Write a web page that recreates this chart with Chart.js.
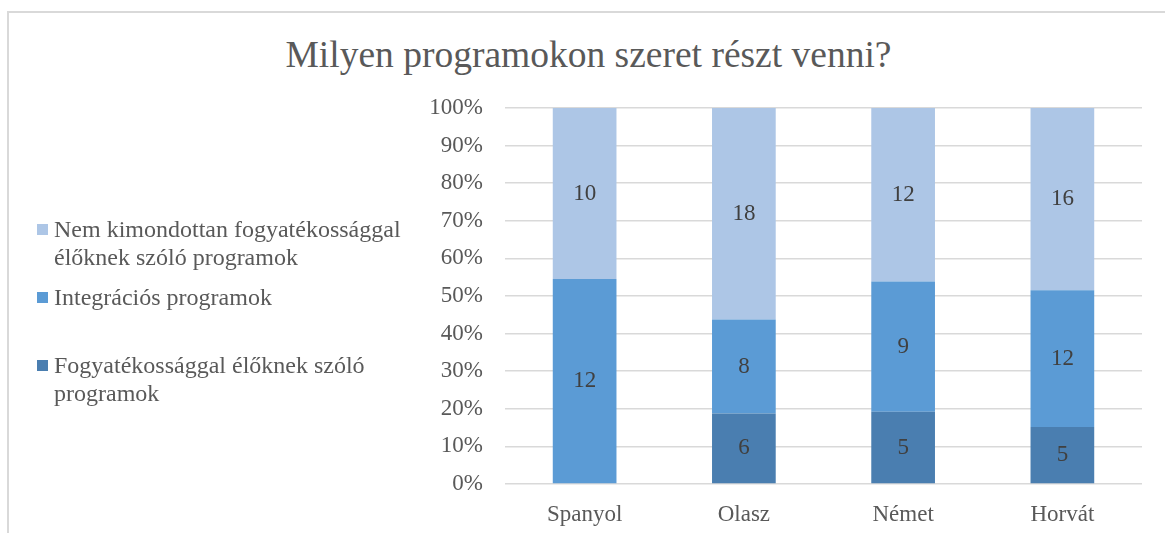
<!DOCTYPE html>
<html>
<head>
<meta charset="utf-8">
<script src="https://cdn.jsdelivr.net/npm/chart.js@4/dist/chart.umd.min.js"></script>
<style>
  body { margin: 0; background: #fff; font-family: "Liberation Serif", serif; }
  .frame { position: absolute; left: 7px; top: 11px; width: 1200px; height: 600px;
    border-top: 2px solid #d9d9d9; border-left: 2px solid #d9d9d9; }
  .title { position: absolute; left: 0; width: 1177px; top: 32px; text-align: center;
    font-size: 37.5px; color: #595959; line-height: 45px; }
  #wrap { position: absolute; left: 0; top: 0; width: 1165px; height: 533px; }
  .leg { position: absolute; left: 37px; color: #595959; font-size: 24px; line-height: 28px; }
  .leg i { position: absolute; left: 0; top: 9px; width: 11px; height: 11px; }
  .leg span { display: block; margin-left: 17px; width: 365px; }
</style>
</head>
<body>
<div class="frame"></div>
<div class="title">Milyen programokon szeret részt venni?</div>
<div id="wrap"><canvas id="chart"></canvas></div>
<div id="legend"></div>
<script>
let categories = ["Spanyol", "Olasz", "Német", "Horvát"];
let seriesNames = [
  "Fogyatékossággal élőknek szóló programok",
  "Integrációs programok",
  "Nem kimondottan fogyatékossággal élőknek szóló programok",
];
let fogyatekos = [0, 6, 5, 5];
let integracios = [12, 8, 9, 12];
let nemKimondottan = [10, 18, 12, 16];
let colors = ["#4a7eb0", "#5b9bd5", "#adc6e6"];

let counts = [fogyatekos, integracios, nemKimondottan];
let totals = categories.map((c, i) => counts.reduce((s, arr) => s + arr[i], 0));

// legend (top = last series), html so the long names can wrap
let legendTops = [351, 283, 215];
let legend = document.querySelector("#legend");
seriesNames.forEach((name, k) => {
  let d = document.createElement("div");
  d.className = "leg";
  d.style.top = legendTops[k] + "px";
  d.innerHTML = '<i style="background:' + colors[k] + '"></i><span>' + name + "</span>";
  legend.appendChild(d);
});

// count labels in the middle of each segment
const segmentLabels = {
  id: "segmentLabels",
  afterDatasetsDraw(chart) {
    let c = chart.ctx;
    c.save();
    c.font = '23px "Liberation Serif"';
    c.fillStyle = "#404040";
    c.textAlign = "center";
    c.textBaseline = "middle";
    chart.data.datasets.forEach((ds, k) => {
      chart.getDatasetMeta(k).data.forEach((bar, i) => {
        let v = counts[k][i];
        if (!v) return;
        c.fillText(String(v), bar.x, (bar.y + bar.base) / 2);
      });
    });
    c.restore();
  },
};

let ctx = document.querySelector("#chart");
new Chart(ctx, {
  type: "bar",
  data: {
    labels: categories,
    datasets: seriesNames.map((name, k) => ({
      label: name,
      data: counts[k].map((v, i) => (v / totals[i]) * 100),
      backgroundColor: colors[k],
      borderWidth: 0,
      categoryPercentage: 1,
      barPercentage: 0.4,
    })),
  },
  options: {
    responsive: true,
    maintainAspectRatio: false,
    animation: false,
    layout: { padding: { top: 108, right: 23, bottom: 0, left: 0 } },
    plugins: { legend: { display: false }, title: { display: false }, tooltip: { enabled: false } },
    scales: {
      x: {
        stacked: true,
        grid: { display: false, drawTicks: false },
        border: { display: false },
        ticks: { color: "#595959", font: { family: "Liberation Serif", size: 23 }, padding: 17 },
        afterFit: (s) => { s.height = 49; },
      },
      y: {
        stacked: true,
        min: 0,
        max: 100,
        grid: { color: "#d9d9d9", lineWidth: 1.5, drawTicks: false },
        border: { display: false },
        ticks: {
          stepSize: 10,
          color: "#595959",
          font: { family: "Liberation Serif", size: 23 },
          padding: 22,
          callback: (v) => v + "%",
        },
        afterFit: (s) => { s.width = 505; },
      },
    },
  },
  plugins: [segmentLabels],
});
</script>
</body>
</html>
